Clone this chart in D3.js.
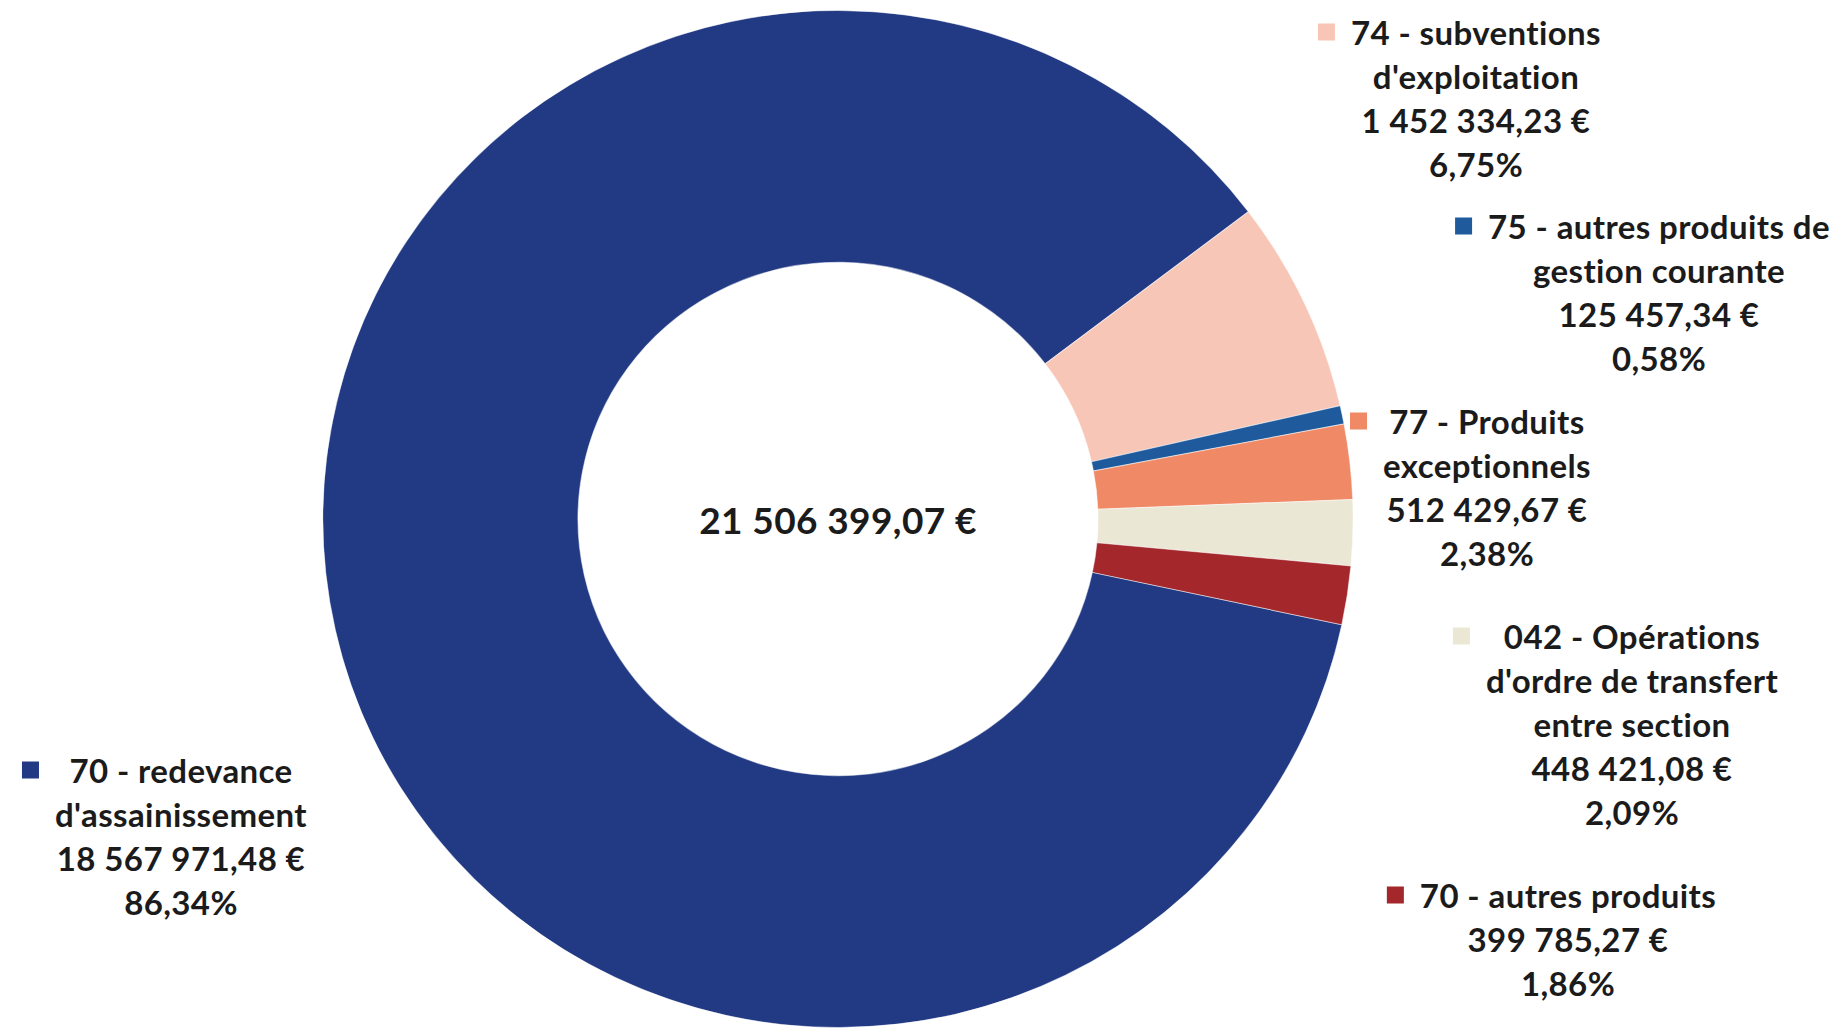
<!DOCTYPE html>
<html lang="fr">
<head>
<meta charset="utf-8">
<script src="https://cdn.jsdelivr.net/npm/d3@7"></script>
<style>
  html, body { margin: 0; padding: 0; background: #ffffff; }
  svg { display: block; }
  text { font-family: Lato, "Open Sans", "Liberation Sans", sans-serif; font-weight: 700; fill: #1b1b1b;
         font-variant-ligatures: none; font-feature-settings: "liga" 0, "clig" 0; }
</style>
</head>
<body>
<svg id="chart" width="1844" height="1030"></svg>
<script>
// ---- Data ----
const categories = [
  "70 - redevance d'assainissement",
  "74 - subventions d'exploitation",
  "75 - autres produits de gestion courante",
  "77 - Produits exceptionnels",
  "042 - Opérations d'ordre de transfert entre section",
  "70 - autres produits"
];
const labelLines = [
  ["70 - redevance", "d'assainissement"],
  ["74 - subventions", "d'exploitation"],
  ["75 - autres produits de", "gestion courante"],
  ["77 - Produits", "exceptionnels"],
  ["042 - Opérations", "d'ordre de transfert", "entre section"],
  ["70 - autres produits"]
];
const values = [18567971.48, 1452334.23, 125457.34, 512429.67, 448421.08, 399785.27];
const colors = ["#223a84", "#f8c6b6", "#1f5b9c", "#f08a66", "#ebe7d5", "#a3272b"];

// ---- Layout (positions only) ----
const cx = 838, cy = 519, outerR = 512, innerR = 258.5;
const scaleX = 1.006, scaleY = 0.993;
const startDeg = 102.0;
const lineGap = 44;
const labelFont = 33, centerFont = 37, letterSp = 0.4;
const labelPos = [
  { x: 181,  y: 770 },
  { x: 1476, y: 32 },
  { x: 1659, y: 226 },
  { x: 1487, y: 421 },
  { x: 1632, y: 636 },
  { x: 1568, y: 895 }
];
const markerSize = 17, markerGap = 16;

const locale = d3.formatLocale({ decimal: ",", thousands: "\u00a0", grouping: [3], currency: ["", "\u00a0€"] });
const fmtEuro = v => locale.format(",.2f")(v) + " €";
const fmtPct = v => locale.format(".2f")(v * 100) + "%";

const total = d3.sum(values);
const data = categories.map((c, i) => ({ name: c, value: values[i], color: colors[i], lines: labelLines[i], pos: labelPos[i] }));

const svg = d3.select("#chart");
const g = svg.append("g").attr("transform", `translate(${cx},${cy})`);
const ring = g.append("g").attr("transform", `scale(${scaleX},${scaleY})`);

const a0 = startDeg * Math.PI / 180;
const pie = d3.pie().sort(null).value(d => d.value).startAngle(a0).endAngle(a0 + 2 * Math.PI);
const arc = d3.arc().innerRadius(innerR).outerRadius(outerR);

ring.selectAll("path.slice")
  .data(pie(data))
  .join("path")
  .attr("class", "slice")
  .attr("d", arc)
  .attr("fill", d => d.data.color)
  .attr("stroke", "#ffffff")
  .attr("stroke-opacity", 0.5)
  .attr("stroke-width", 1);

// centre total
g.append("text")
  .attr("text-anchor", "middle")
  .attr("dominant-baseline", "central")
  .attr("font-size", centerFont)
  .attr("letter-spacing", letterSp)
  .text(fmtEuro(total));

// labels
data.forEach(d => {
  const lines = d.lines.concat([fmtEuro(d.value), fmtPct(d.value / total)]);
  const lg = svg.append("g").attr("class", "label");
  const texts = lg.selectAll("text")
    .data(lines)
    .join("text")
    .attr("x", d.pos.x)
    .attr("y", (l, i) => d.pos.y + i * lineGap)
    .attr("text-anchor", "middle")
    .attr("dominant-baseline", "central")
    .attr("font-size", labelFont)
    .attr("letter-spacing", letterSp)
    .text(l => l);
  let maxW = 0;
  texts.each(function () { maxW = Math.max(maxW, this.getComputedTextLength()); });
  lg.append("rect")
    .attr("x", d.pos.x - maxW / 2 - markerGap - markerSize)
    .attr("y", d.pos.y - markerSize / 2)
    .attr("width", markerSize)
    .attr("height", markerSize)
    .attr("fill", d.color);
});
</script>
</body>
</html>
